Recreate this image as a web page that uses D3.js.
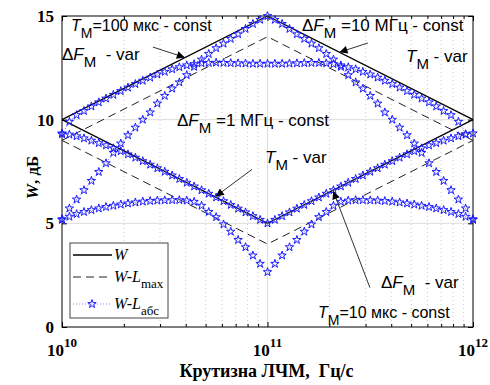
<!DOCTYPE html>
<meta charset="utf-8">
<script src="https://d3js.org/d3.v7.min.js"></script>
<style>
  body { margin: 0; background: #fff; }
  text { fill: #000; }
</style>
<div id="my_dataviz"></div>

<script>

// x positions of the star points, as powers of ten (Гц/с)
var xExp = [10.000, 10.036, 10.071, 10.107, 10.143, 10.179, 10.214, 10.250, 10.286, 10.321,
            10.357, 10.393, 10.429, 10.464, 10.500, 10.536, 10.571, 10.607, 10.643, 10.679,
            10.714, 10.750, 10.786, 10.821, 10.857, 10.893, 10.929, 10.964, 11.000,
            11.036, 11.071, 11.107, 11.143, 11.179, 11.214, 11.250, 11.286, 11.321, 11.357,
            11.393, 11.429, 11.464, 11.500, 11.536, 11.571, 11.607, 11.643, 11.679, 11.714,
            11.750, 11.786, 11.821, 11.857, 11.893, 11.929, 11.964, 12.000];

// W and W-Lmax (solid / dashed diamonds)
var wExp = [10, 11, 12];
var wUp = [10, 15, 10];
var wDown = [10, 5, 10];
var lmaxUp = [9, 14, 9];
var lmaxDown = [9, 4, 9];

// W-Lабс, four curves
var absPlateau = [9.30, 9.90, 10.22, 10.42, 10.64, 10.84, 11.02, 11.20, 11.38, 11.55,
                  11.72, 11.88, 12.03, 12.18, 12.31, 12.43, 12.53, 12.62, 12.68, 12.72,
                  12.74, 12.75, 12.74, 12.73, 12.72, 12.71, 12.70, 12.70, 12.70,
                  12.70, 12.70, 12.71, 12.72, 12.73, 12.74, 12.74, 12.72, 12.68, 12.62,
                  12.53, 12.43, 12.31, 12.18, 12.03, 11.88, 11.72, 11.55, 11.38, 11.20,
                  11.02, 10.84, 10.64, 10.42, 10.22, 9.90, 9.30];
var absPeak = [5.20, 5.72, 6.15, 6.60, 7.05, 7.48, 7.90, 8.40, 8.85, 9.25,
               9.62, 10.00, 10.35, 10.78, 11.15, 11.50, 11.80, 12.15, 12.55, 12.90,
               13.17, 13.45, 13.67, 13.90, 14.12, 14.38, 14.62, 14.82, 15.00,
               14.82, 14.62, 14.38, 14.12, 13.90, 13.67, 13.45, 13.17, 12.90, 12.55,
               12.15, 11.80, 11.50, 11.15, 10.78, 10.35, 10.00, 9.62, 9.25, 8.85,
               8.40, 7.90, 7.48, 7.05, 6.60, 6.15, 5.72, 5.20];
var absValley = [9.34, 9.28, 9.20, 9.10, 8.99, 8.87, 8.76, 8.62, 8.48, 8.33,
                 8.17, 8.00, 7.83, 7.66, 7.49, 7.31, 7.14, 6.96, 6.78, 6.60,
                 6.43, 6.25, 6.07, 5.89, 5.71, 5.53, 5.35, 5.17, 5.00,
                 5.17, 5.35, 5.53, 5.71, 5.89, 6.07, 6.25, 6.43, 6.60, 6.78,
                 6.96, 7.14, 7.31, 7.49, 7.66, 7.83, 8.00, 8.17, 8.33, 8.48,
                 8.62, 8.76, 8.87, 8.99, 9.10, 9.20, 9.28, 9.34];
var absDip = [5.17, 5.32, 5.45, 5.55, 5.64, 5.72, 5.79, 5.85, 5.91, 5.96,
              6.01, 6.05, 6.08, 6.10, 6.11, 6.12, 6.12, 6.10, 6.04, 5.85,
              5.55, 5.30, 4.95, 4.60, 4.20, 3.85, 3.45, 3.05, 2.65,
              3.05, 3.45, 3.85, 4.20, 4.60, 4.95, 5.30, 5.55, 5.85, 6.04,
              6.10, 6.12, 6.12, 6.11, 6.10, 6.08, 6.05, 6.01, 5.96, 5.91,
              5.85, 5.79, 5.72, 5.64, 5.55, 5.45, 5.32, 5.17];

var yTicks = [0, 5, 10, 15];
var xTicks = [1e10, 1e11, 1e12];

var margin = {top: 16, right: 17, bottom: 58, left: 62},
    width = 490 - margin.left - margin.right,
    height = 385 - margin.top - margin.bottom;

var svg = d3.select("#my_dataviz")
  .append("svg")
    .attr("width", width + margin.left + margin.right)
    .attr("height", height + margin.top + margin.bottom)
  .append("g")
    .attr("transform", "translate(" + margin.left + "," + margin.top + ")");

var defs = svg.append("defs");
defs.append("marker")
    .attr("id", "arr")
    .attr("viewBox", "0 0 10 10")
    .attr("refX", 10).attr("refY", 5)
    .attr("markerWidth", 10).attr("markerHeight", 8)
    .attr("markerUnits", "userSpaceOnUse")
    .attr("orient", "auto")
  .append("path")
    .attr("d", "M0,0 L10,5 L0,10 z")
    .attr("fill", "#000");

var x = d3.scaleLog().domain([1e10, 1e12]).range([0, width]);
var y = d3.scaleLinear().domain([0, 15]).range([height, 0]);

var minorTicks = [];
[1e10, 1e11].forEach(function(b) {
  for (var k = 2; k <= 9; k++) minorTicks.push(k * b);
});

// grid
svg.append("g").selectAll("line")
  .data(minorTicks).enter().append("line")
    .attr("x1", d => x(d)).attr("x2", d => x(d))
    .attr("y1", 0).attr("y2", height)
    .attr("stroke", "#c8c8c8").attr("stroke-dasharray", "1,3");
svg.append("g").selectAll("line")
  .data([1e11]).enter().append("line")
    .attr("x1", d => x(d)).attr("x2", d => x(d))
    .attr("y1", 0).attr("y2", height)
    .attr("stroke", "#dcdcdc");
svg.append("g").selectAll("line")
  .data([5, 10]).enter().append("line")
    .attr("x1", 0).attr("x2", width)
    .attr("y1", d => y(d)).attr("y2", d => y(d))
    .attr("stroke", "#dcdcdc");

// axes with inward ticks
svg.append("g")
  .attr("transform", "translate(0," + height + ")")
  .call(d3.axisBottom(x).tickValues(minorTicks).tickSize(-3).tickFormat(""))
  .call(g => g.select(".domain").remove());
svg.append("g")
  .attr("transform", "translate(0," + height + ")")
  .call(d3.axisBottom(x).tickValues(xTicks).tickSize(-5).tickFormat(""))
  .call(g => g.select(".domain").remove());
svg.append("g")
  .call(d3.axisTop(x).tickValues(minorTicks).tickSize(-3).tickFormat(""))
  .call(g => g.select(".domain").remove());
svg.append("g")
  .call(d3.axisTop(x).tickValues(xTicks).tickSize(-5).tickFormat(""))
  .call(g => g.select(".domain").remove());
svg.append("g")
  .attr("transform", "translate(" + width + ",0)")
  .call(d3.axisRight(y).tickValues(yTicks).tickSize(-5).tickFormat(""))
  .call(g => g.select(".domain").remove());
svg.append("g")
  .call(d3.axisLeft(y).tickValues(yTicks).tickSize(-5).tickPadding(8))
  .call(g => g.select(".domain").remove())
  .selectAll("text")
    .attr("font-family", "Liberation Serif, Times New Roman, serif")
    .attr("font-weight", "bold")
    .attr("font-size", "17px")
    .attr("fill", "#000");

svg.append("rect")
  .attr("width", width).attr("height", height)
  .attr("fill", "none").attr("stroke", "#000");

// x tick labels 10^n
svg.selectAll("xlab")
  .data(xTicks).enter().append("text")
    .attr("x", d => x(d)).attr("y", height + 29)
    .attr("text-anchor", "middle")
    .attr("font-family", "Liberation Serif, Times New Roman, serif")
    .attr("font-weight", "bold")
    .attr("font-size", "17px")
    .each(function(d) {
      var t = d3.select(this);
      t.append("tspan").text("10");
      t.append("tspan").attr("dy", -9).attr("font-size", "13px").text(Math.round(Math.log10(d)));
    });

// axis titles
svg.append("text")
  .attr("x", width / 2 - 1).attr("y", height + 50)
  .attr("text-anchor", "middle")
  .attr("font-family", "Liberation Serif, Times New Roman, serif")
  .attr("font-weight", "bold")
  .attr("font-size", "18px")
  .attr("xml:space", "preserve")
  .text("Крутизна ЛЧМ,  Гц/с");

var yt = svg.append("text")
  .attr("transform", "translate(-24," + (height / 2 + 6) + ")rotate(-90)")
  .attr("text-anchor", "middle")
  .attr("font-family", "Liberation Serif, Times New Roman, serif")
  .attr("font-weight", "bold")
  .attr("font-size", "17px");
yt.append("tspan").attr("font-style", "italic").text("W");
yt.append("tspan").text(", дБ");

// W and W-Lmax
var line3 = function(vals) {
  return d3.line()
    .x((d, i) => x(Math.pow(10, wExp[i])))
    .y(d => y(d))(vals);
};
[lmaxUp, lmaxDown].forEach(function(v) {
  svg.append("path").attr("d", line3(v))
    .attr("fill", "none").attr("stroke", "#222").attr("stroke-width", 1)
    .attr("stroke-dasharray", "8,5");
});
[wUp, wDown].forEach(function(v) {
  svg.append("path").attr("d", line3(v))
    .attr("fill", "none").attr("stroke", "#000").attr("stroke-width", 1.3);
});

// W-Lабс stars
var star = d3.symbol().type(d3.symbolStar).size(22);
[absPlateau, absPeak, absValley, absDip].forEach(function(v) {
  var pts = v.map((d, i) => [x(Math.pow(10, xExp[i])), y(d)]);
  svg.append("path").attr("d", d3.line()(pts))
    .attr("fill", "none").attr("stroke", "#6a6aff").attr("stroke-width", 1)
    .attr("stroke-dasharray", "1,2");
  svg.append("g").selectAll("path")
    .data(pts).enter().append("path")
      .attr("d", star)
      .attr("transform", d => "translate(" + d[0] + "," + d[1] + ")")
      .attr("fill", "none").attr("stroke", "#1a1aff").attr("stroke-width", 1);
});

// annotations
function rich(xp, yp, size, parts) {
  var t = svg.append("text")
    .attr("x", xp).attr("y", yp)
    .attr("font-family", "Liberation Sans, Arial, sans-serif")
    .attr("font-size", size + "px")
    .attr("xml:space", "preserve");
  var shift = 0;
  parts.forEach(function(p) {
    var s = t.append("tspan").text(p.t);
    var want = p.sub ? 7 : 0;
    if (want !== shift) { s.attr("dy", want - shift); shift = want; }
    if (p.i) s.attr("font-style", "italic");
    if (p.sub) s.attr("font-size", (size - 2) + "px");
  });
}
var px = v => v - margin.left, py = v => v - margin.top;

rich(px(71), py(31), 16, [{t: "T", i: true}, {t: "M", sub: true}, {t: "=100 мкс - const"}]);
rich(px(62), py(60), 17, [{t: "Δ"}, {t: "F", i: true}, {t: "M", sub: true}, {t: "  - var"}]);
rich(px(302), py(31), 17, [{t: "Δ"}, {t: "F", i: true}, {t: "M", sub: true}, {t: " =10 МГц - const"}]);
rich(px(406), py(62), 17, [{t: "T", i: true}, {t: "M", sub: true}, {t: " - var"}]);
rich(px(177), py(126), 17, [{t: "Δ"}, {t: "F", i: true}, {t: "M", sub: true}, {t: " =1 МГц - const"}]);
rich(px(265), py(163), 17, [{t: "T", i: true}, {t: "M", sub: true}, {t: " - var"}]);
rich(px(381), py(288), 17, [{t: "Δ"}, {t: "F", i: true}, {t: "M", sub: true}, {t: "  - var"}]);
rich(px(318), py(318), 16, [{t: "T", i: true}, {t: "M", sub: true}, {t: "=10 мкс - const"}]);

// arrows, [from, to] in data units
var arrows = [
  [[2.77e10, 13.5], [3.96e10, 13.0]],
  [[3.08e11, 13.7], [2.24e11, 13.25]],
  [[8.4e10, 7.6], [5.6e10, 6.3]],
  [[3.15e11, 1.9], [2.09e11, 6.55]]
];
svg.selectAll("arrow")
  .data(arrows).enter().append("line")
    .attr("x1", d => x(d[0][0])).attr("y1", d => y(d[0][1]))
    .attr("x2", d => x(d[1][0])).attr("y2", d => y(d[1][1]))
    .attr("stroke", "#333").attr("stroke-width", 1)
    .attr("marker-end", "url(#arr)");

// legend
var lg = svg.append("g").attr("transform", "translate(" + px(70) + "," + py(243) + ")");
lg.append("rect").attr("width", 98).attr("height", 75)
  .attr("fill", "#fff").attr("stroke", "#444");
var legRows = [
  {y: 12, kind: "solid", sub: ""},
  {y: 34, kind: "dash", sub: "max"},
  {y: 61, kind: "star", sub: "абс"}
];
legRows.forEach(function(r) {
  var l = lg.append("line").attr("x1", 3).attr("x2", 42).attr("y1", r.y).attr("y2", r.y);
  if (r.kind === "solid") l.attr("stroke", "#000").attr("stroke-width", 1.3);
  if (r.kind === "dash") l.attr("stroke", "#222").attr("stroke-dasharray", "8,5");
  if (r.kind === "star") {
    l.attr("stroke", "#8a8aff").attr("stroke-dasharray", "1,2");
    lg.append("path").attr("d", star).attr("transform", "translate(22," + r.y + ")")
      .attr("fill", "none").attr("stroke", "#1a1aff");
  }
  var t = lg.append("text").attr("x", 44).attr("y", r.y + 5)
    .attr("font-family", "Liberation Serif, Times New Roman, serif")
    .attr("font-size", "16px").attr("fill", "#222");
  t.append("tspan").attr("font-style", "italic").text(r.sub ? "W-L" : "W");
  if (r.sub) t.append("tspan").attr("dy", 6).attr("font-size", "13px").text(r.sub);
});

</script>
